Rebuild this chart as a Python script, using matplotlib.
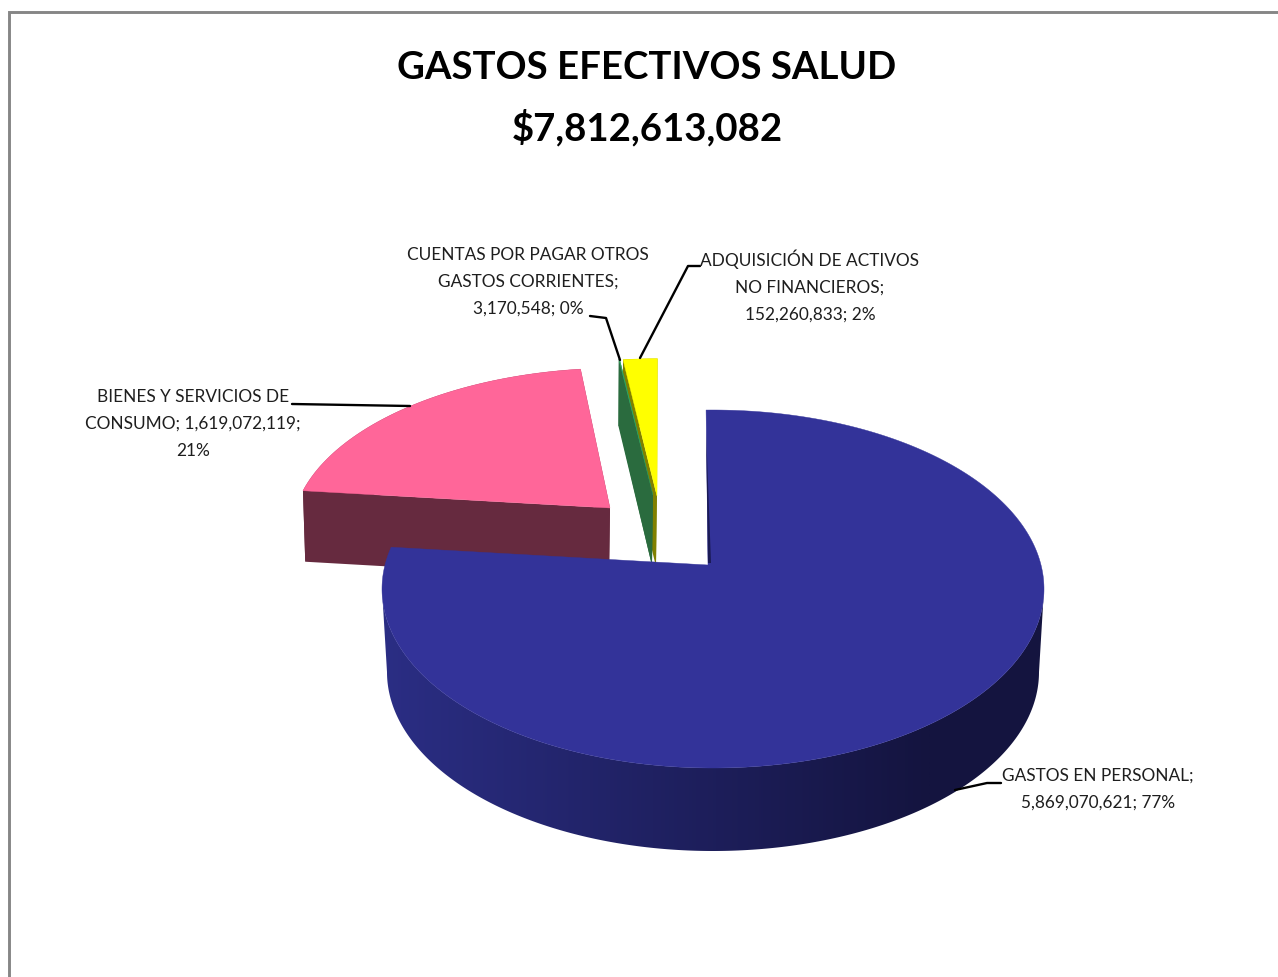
#!/usr/bin/env python

import numpy as np
import matplotlib
matplotlib.use('agg')
import matplotlib.pyplot as plt  # noqa
from matplotlib.colors import LinearSegmentedColormap
from matplotlib.patches import Polygon, Rectangle

W, H = 1278, 977

title_lines = ['GASTOS EFECTIVOS SALUD', '$7,812,613,082']

# Pie order, clockwise from 12 o'clock
categories = ['GASTOS EN PERSONAL', 'BIENES Y SERVICIOS DE CONSUMO',
              'CUENTAS POR PAGAR OTROS GASTOS CORRIENTES',
              'ADQUISICION DE ACTIVOS NO FINANCIEROS']
values = [5869070621, 1619072119, 3170548, 152260833]
labels = ['GASTOS EN PERSONAL;\n5,869,070,621; 77%',
          'BIENES Y SERVICIOS DE\nCONSUMO; 1,619,072,119;\n21%',
          'CUENTAS POR PAGAR OTROS\nGASTOS CORRIENTES;\n3,170,548; 0%',
          'ADQUISICIÓN DE ACTIVOS\nNO FINANCIEROS;\n152,260,833; 2%']
top_colors = ['#333399', '#FF6699', '#2FA860', '#FFFF00']
wall_colors = ['#14143F', '#662A3F', '#2A6B3E', '#808000']

label_pos = [(1098, 789), (193, 424), (528, 282), (810, 286)]
leaders = [[(955, 790), (987, 783), (1001, 783)],
           [(292, 404), (410, 406)],
           [(590, 316), (606, 318), (620, 360)],
           [(700, 266), (688, 266), (640, 358)]]

# where each slice's tip lands once exploded
apex_px = [(708, 565), (610, 508), (653, 495), (657, 496)]

# disc coords -> pixels for the exploded slices at the back
disc_pts = [(0, 1), (0, -1), (-1, 0), (1, 0)]
top_pts = [(704, 412), (718, 768), (380, 565), (1042, 565)]
bot_pts = [(703, 480), (717, 851), (380, 638), (1045, 638)]

# big slice sits on a plain ellipse: centre x, centre y, rx, ry
top_ellipse = (713, 589, 331, 179)
bot_ellipse = (713, 672, 326, 179)
sweep_deg = (-1.2, 283.5)


def homography(src, dst):
    A, b = [], []
    for (u, v), (x, y) in zip(src, dst):
        A.append([u, v, 1, 0, 0, 0, -u * x, -v * x])
        A.append([0, 0, 0, u, v, 1, -u * y, -v * y])
        b += [x, y]
    return np.append(np.linalg.solve(np.array(A, float), np.array(b, float)), 1).reshape(3, 3)


def project(M, u, v):
    p = M @ np.vstack([u, v, np.ones_like(u)])
    return np.column_stack([p[0] / p[2], p[1] / p[2]])


HT = homography(disc_pts, top_pts)
HB = homography(disc_pts, bot_pts)
HT_inv = np.linalg.inv(HT)

fig = plt.figure(figsize=(W / 100, H / 100), dpi=100)
ax = fig.add_axes([0, 0, 1, 1])
ax.axis('off')

fractions = np.array(values) / np.sum(values)
edges = np.concatenate([[0], np.cumsum(fractions)]) * 2 * np.pi


def slice_points(i, M, n=200):
    q = HT_inv @ np.array([apex_px[i][0], apex_px[i][1], 1.0])
    du, dv = q[0] / q[2], q[1] / q[2]
    t = np.linspace(edges[i], edges[i + 1], n)
    arc = project(M, np.sin(t) + du, np.cos(t) + dv)
    tip = project(M, np.array([du]), np.array([dv]))[0]
    return tip, arc


def draw_back_slice(i, zorder):
    tip_t, arc_t = slice_points(i, HT)
    tip_b, arc_b = slice_points(i, HB)
    col = wall_colors[i]
    ax.add_patch(Polygon(np.vstack([arc_t, arc_b[::-1]]), fc=col, ec='none', zorder=zorder))
    for end in (-1, 0):
        ax.add_patch(Polygon([tip_t, arc_t[end], arc_b[end], tip_b], fc=col, ec='none', zorder=zorder))
    ax.add_patch(Polygon(np.vstack([[tip_t], arc_t]), fc=top_colors[i], ec=top_colors[i],
                         lw=0.3, zorder=zorder + 0.5))


def ellipse_arc(e, phi):
    return np.column_stack([e[0] + e[2] * np.sin(phi), e[1] - e[3] * np.cos(phi)])


def draw_main_slice(zorder):
    t = np.linspace(edges[0], edges[1], 400)
    phi_deg = sweep_deg[0] + np.degrees(t) * (sweep_deg[1] - sweep_deg[0]) / np.degrees(edges[1])
    phi = np.radians(phi_deg)
    arc_t = ellipse_arc(top_ellipse, phi)
    tip = np.array(apex_px[0], float)

    # rim runs between the two side extremes of the ellipse
    front = np.radians(np.linspace(90, 270, 300))
    rim_xy = np.vstack([ellipse_arc(bot_ellipse, front), ellipse_arc(top_ellipse, front)[::-1]])

    # shaded rim, lighter on the left, dark from about x=930
    rim = Polygon(rim_xy, transform=ax.transData, fc='none', ec='none')
    ax.add_patch(rim)
    cmap = LinearSegmentedColormap.from_list('rim', ['#2B2E85', wall_colors[0]])
    x0, x1 = rim_xy[:, 0].min() + 4, 930
    im = ax.imshow(np.linspace(0, 1, 256)[None, :], cmap=cmap, aspect='auto',
                   extent=(x0 - 10, x1, rim_xy[:, 1].max() + 2, rim_xy[:, 1].min() - 2), zorder=zorder)
    im.set_clip_path(rim)
    dark = Polygon(rim_xy, fc=wall_colors[0], ec='none', zorder=zorder)
    ax.add_patch(dark)
    dark.set_clip_path(Rectangle((x1, 0), W - x1, H, transform=ax.transData))

    ax.add_patch(Polygon(np.vstack([[tip], arc_t]), fc=top_colors[0], ec=top_colors[0],
                         lw=0.3, zorder=zorder + 0.5))
    # sliver of dark wall along the 12 o'clock edge
    ax.add_patch(Polygon([arc_t[0] + (0, 20), tip + (0, -2), tip + (3, -2)], fc='#1A1A55', ec='none',
                         zorder=zorder + 0.6))


# back to front
draw_back_slice(1, 2)
draw_back_slice(3, 3)
draw_back_slice(2, 4)
draw_main_slice(5)

for pts in leaders:
    xs, ys = zip(*pts)
    ax.plot(xs, ys, color='black', lw=1.7, zorder=8, solid_capstyle='round')

for (x, y), txt in zip(label_pos, labels):
    ax.text(x, y, txt, ha='center', va='center', fontsize=12.4, family='Lato',
            color='#1E1E1E', linespacing=1.82, zorder=9)

for y, line in zip([79, 140], title_lines):
    ax.text(647, y, line, ha='center', va='baseline', fontsize=27.6, family='Lato',
            weight='bold', color='black')

# chart frame, cropped on the right and at the bottom
ax.plot([8.5, 8.5, W], [H, 11.5, 11.5], color='#868686', lw=2.1, solid_joinstyle='miter', zorder=1)

ax.set_xlim(0, W)
ax.set_ylim(H, 0)

fig.savefig('out.png', dpi=100, facecolor='white')
